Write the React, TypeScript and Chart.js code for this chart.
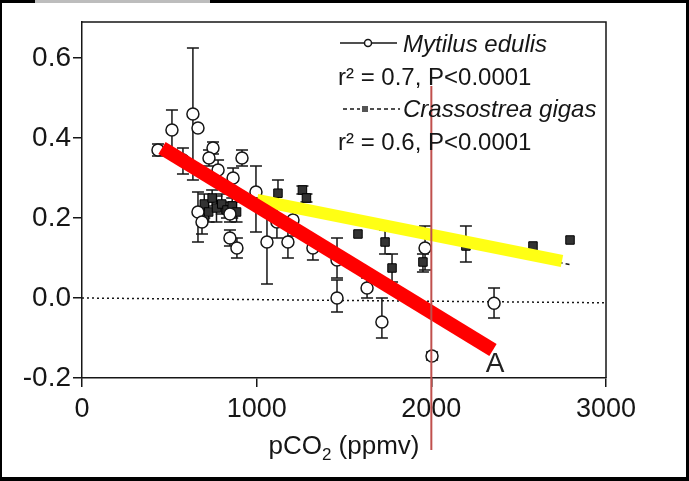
import React, { useEffect, useRef } from "react";
import { Chart, registerables } from "chart.js";
Chart.register(...registerables);

// ---- axis ticks ----
const xTicks = [0, 1000, 2000, 3000];
const yTicks = [-0.2, 0.0, 0.2, 0.4, 0.6];

// ---- Mytilus edulis (open circles) ----
const mytilusX = [435, 515, 635, 664, 578, 750, 727, 779, 916, 865, 996, 1116, 1059, 1179, 1208, 1322, 1460, 1460, 1632, 1717, 2004, 1964, 2359, 664, 687, 847, 847, 887];
const mytilusY = [0.37, 0.42, 0.46, 0.425, 0.345, 0.375, 0.35, 0.32, 0.35, 0.3, 0.265, 0.19, 0.14, 0.14, 0.195, 0.125, 0.095, 0.0, 0.025, -0.06, -0.145, 0.125, -0.013, 0.215, 0.19, 0.21, 0.15, 0.125];
const mytilusLo = [0.355, 0.37, 0.295, 0.425, 0.31, 0.36, 0.33, 0.295, 0.33, 0.275, 0.165, 0.15, 0.035, 0.1, 0.155, 0.095, 0.05, -0.035, 0.0, -0.1, -0.155, 0.07, -0.05, 0.14, 0.16, 0.19, 0.13, 0.1];
const mytilusHi = [0.385, 0.47, 0.625, 0.425, 0.375, 0.39, 0.37, 0.345, 0.37, 0.325, 0.33, 0.23, 0.24, 0.18, 0.235, 0.15, 0.15, 0.045, 0.05, 0.0, -0.135, 0.18, 0.025, 0.265, 0.22, 0.23, 0.17, 0.15];

// ---- Crassostrea gigas (filled squares) ----
const gigasX = [700, 725, 745, 770, 800, 830, 860, 885, 1122, 1262, 1285, 1580, 1735, 1775, 1952, 2198, 2582, 2794];
const gigasY = [0.235, 0.215, 0.25, 0.225, 0.235, 0.22, 0.23, 0.215, 0.262, 0.27, 0.25, 0.16, 0.14, 0.075, 0.09, 0.13, 0.13, 0.145];
const gigasLo = [0.2, 0.19, 0.23, 0.19, 0.21, 0.2, 0.2, 0.19, 0.235, 0.26, 0.24, 0.16, 0.11, 0.04, 0.065, 0.09, 0.13, 0.145];
const gigasHi = [0.26, 0.24, 0.27, 0.255, 0.26, 0.24, 0.25, 0.24, 0.295, 0.28, 0.26, 0.16, 0.17, 0.11, 0.11, 0.18, 0.13, 0.145];

// ---- lines ----
const gigasFitX = [1000, 2800];
const gigasFitY = [0.24, 0.083];
const zeroLineX = [0, 3000];
const zeroLineY = [0.0, -0.012];
const redX = [458, 2353];
const redY = [0.375, -0.13];
const yellowX = [1002, 2748];
const yellowY = [0.245, 0.0925];
const markerX = 2000;
const markerYTop = 0.53;
const markerYBottom = -0.38;
const labelAX = 2365;
const labelAY = -0.165;

const pts = (xs: number[], ys: number[]) => xs.map((x, i) => ({ x, y: ys[i] }));

const INK = "#161616";
const FONT = "'Liberation Sans', Arial, sans-serif";

const decorPlugin = {
  id: "decor",
  beforeDatasetsDraw(chart: any) {
    const { ctx, scales } = chart;
    const xs = scales.x;
    const ys = scales.y;
    const drawErr = (X: number[], Lo: number[], Hi: number[]) => {
      ctx.save();
      ctx.strokeStyle = INK;
      ctx.lineWidth = 1.5;
      X.forEach((xv, i) => {
        if (Hi[i] - Lo[i] < 1e-6) return;
        const px = xs.getPixelForValue(xv);
        const pl = ys.getPixelForValue(Lo[i]);
        const ph = ys.getPixelForValue(Hi[i]);
        ctx.beginPath();
        ctx.moveTo(px, pl);
        ctx.lineTo(px, ph);
        ctx.moveTo(px - 6, pl);
        ctx.lineTo(px + 6, pl);
        ctx.moveTo(px - 6, ph);
        ctx.lineTo(px + 6, ph);
        ctx.stroke();
      });
      ctx.restore();
    };
    drawErr(mytilusX, mytilusLo, mytilusHi);
    drawErr(gigasX, gigasLo, gigasHi);
  },
  afterDraw(chart: any) {
    const { ctx, chartArea, scales, width, height } = chart;
    const xs = scales.x;
    const ys = scales.y;
    ctx.save();
    // frame top & right
    ctx.strokeStyle = INK;
    ctx.lineWidth = 1.5;
    ctx.beginPath();
    ctx.moveTo(chartArea.left, chartArea.top);
    ctx.lineTo(chartArea.right, chartArea.top);
    ctx.lineTo(chartArea.right, chartArea.bottom);
    ctx.stroke();

    // vertical red marker line
    const mx = xs.getPixelForValue(markerX);
    ctx.strokeStyle = "#c0504d";
    ctx.lineWidth = 2;
    ctx.beginPath();
    ctx.moveTo(mx, ys.getPixelForValue(markerYTop));
    ctx.lineTo(mx, ys.getPixelForValue(markerYBottom));
    ctx.stroke();

    // label A
    ctx.fillStyle = "#222";
    ctx.font = `28px ${FONT}`;
    ctx.textAlign = "center";
    ctx.textBaseline = "middle";
    ctx.fillText("A", xs.getPixelForValue(labelAX), ys.getPixelForValue(labelAY));

    // legend
    const lx = chartArea.left + 258;
    const ty = chartArea.top;
    ctx.fillStyle = INK;
    ctx.strokeStyle = INK;
    ctx.lineWidth = 1.5;
    ctx.setLineDash([]);
    ctx.beginPath();
    ctx.moveTo(lx, ty + 21);
    ctx.lineTo(lx + 57, ty + 21);
    ctx.stroke();
    ctx.beginPath();
    ctx.arc(lx + 28, ty + 21, 3.5, 0, Math.PI * 2);
    ctx.fillStyle = "#fff";
    ctx.fill();
    ctx.stroke();
    ctx.fillStyle = INK;
    ctx.textAlign = "left";
    ctx.textBaseline = "alphabetic";
    ctx.font = `italic 24px ${FONT}`;
    ctx.fillText("Mytilus edulis", lx + 63, ty + 30);
    ctx.font = `24px ${FONT}`;
    ctx.fillText("r\u00b2 = 0.7, P<0.0001", lx - 2, ty + 63);
    // gigas legend marker
    ctx.setLineDash([4, 3]);
    ctx.beginPath();
    ctx.moveTo(lx + 3, ty + 87);
    ctx.lineTo(lx + 20, ty + 87);
    ctx.moveTo(lx + 30, ty + 87);
    ctx.lineTo(lx + 60, ty + 87);
    ctx.stroke();
    ctx.setLineDash([]);
    ctx.fillStyle = "#555";
    ctx.fillRect(lx + 22, ty + 84, 6, 6);
    ctx.fillStyle = INK;
    ctx.font = `italic 24px ${FONT}`;
    ctx.fillText("Crassostrea gigas", lx + 63, ty + 95);
    ctx.font = `24px ${FONT}`;
    ctx.fillText("r\u00b2 = 0.6, P<0.0001", lx - 2, ty + 128);

    // x-axis title with subscript
    ctx.font = `26px ${FONT}`;
    const p1 = "pCO";
    const p2 = "2";
    const p3 = " (ppmv)";
    const w1 = ctx.measureText(p1).width;
    const w3 = ctx.measureText(p3).width;
    ctx.font = `17px ${FONT}`;
    const w2 = ctx.measureText(p2).width;
    const total = w1 + w2 + w3;
    const cx = (chartArea.left + chartArea.right) / 2;
    let tx = cx - total / 2;
    const base = chartArea.bottom + 76;
    ctx.font = `26px ${FONT}`;
    ctx.fillText(p1, tx, base);
    tx += w1;
    ctx.font = `17px ${FONT}`;
    ctx.fillText(p2, tx, base + 6);
    tx += w2;
    ctx.font = `26px ${FONT}`;
    ctx.fillText(p3, tx, base);

    // scan border
    ctx.fillStyle = "#000";
    ctx.fillRect(0, 0, width, 3);
    ctx.fillRect(0, height - 4, width, 4);
    ctx.fillRect(0, 0, 2, height);
    ctx.fillRect(width - 3, 0, 3, height);
    ctx.fillStyle = "#bdbdbd";
    ctx.fillRect(35, 0, 175, 3);
    ctx.restore();
  },
};

export default function App() {
  const ref = useRef<HTMLCanvasElement | null>(null);
  useEffect(() => {
    if (!ref.current) return;
    const chart = new Chart(ref.current, {
      type: "scatter",
      data: {
        datasets: [
          {
            type: "line",
            data: pts(zeroLineX, zeroLineY),
            borderColor: INK,
            borderWidth: 1.5,
            borderDash: [2, 3],
            pointRadius: 0,
            order: 10,
          } as any,
          {
            type: "line",
            data: pts(gigasFitX, gigasFitY),
            borderColor: INK,
            borderWidth: 1.5,
            borderDash: [4, 3],
            pointRadius: 0,
            order: 9,
          } as any,
          {
            data: pts(gigasX, gigasY),
            pointStyle: "rect",
            pointRadius: 6,
            backgroundColor: "#333",
            borderColor: "#000",
            borderWidth: 1,
            order: 6,
          },
          {
            data: pts(mytilusX, mytilusY),
            pointStyle: "circle",
            pointRadius: 6,
            backgroundColor: "#fff",
            borderColor: INK,
            borderWidth: 1.5,
            order: 5,
          },
          {
            type: "line",
            data: pts(yellowX, yellowY),
            borderColor: "#ffff14",
            borderWidth: 12,
            borderCapStyle: "butt",
            pointRadius: 0,
            order: 2,
          } as any,
          {
            type: "line",
            data: pts(redX, redY),
            borderColor: "#ff0000",
            borderWidth: 14,
            borderCapStyle: "butt",
            pointRadius: 0,
            order: 1,
          } as any,
        ],
      },
      options: {
        animation: false,
        responsive: false,
        devicePixelRatio: 1,
        layout: { padding: { top: 22, right: 83, bottom: 0, left: 0 } },
        plugins: { legend: { display: false }, tooltip: { enabled: false } },
        scales: {
          x: {
            type: "linear",
            min: 0,
            max: 3000,
            afterBuildTicks: (s: any) => {
              s.ticks = xTicks.map((v) => ({ value: v }));
            },
            afterFit: (s: any) => {
              s.height = 103;
            },
            ticks: {
              font: { family: FONT, size: 27 },
              color: INK,
              padding: 6,
              maxRotation: 0,
              callback: (v: any) => String(v),
            },
            grid: { drawOnChartArea: false, drawTicks: true, tickLength: 9, color: INK, lineWidth: 1.5 },
            border: { display: true, color: INK, width: 1.5 },
          },
          y: {
            type: "linear",
            min: -0.2,
            max: 0.69,
            afterBuildTicks: (s: any) => {
              s.ticks = yTicks.map((v) => ({ value: v }));
            },
            afterFit: (s: any) => {
              s.width = 82;
            },
            ticks: {
              font: { family: FONT, size: 28 },
              color: INK,
              padding: 2,
              callback: (v: any) => Number(v).toFixed(1),
            },
            grid: { drawOnChartArea: false, drawTicks: true, tickLength: 9, color: INK, lineWidth: 1.5 },
            border: { display: true, color: INK, width: 1.5 },
          },
        },
      },
      plugins: [decorPlugin],
    });
    return () => chart.destroy();
  }, []);
  return (
    <div style={{ position: "absolute", left: 0, top: 0, width: 689, height: 481, background: "#fff" }}>
      <canvas ref={ref} width={689} height={481} style={{ width: 689, height: 481, display: "block" }} />
    </div>
  );
}
